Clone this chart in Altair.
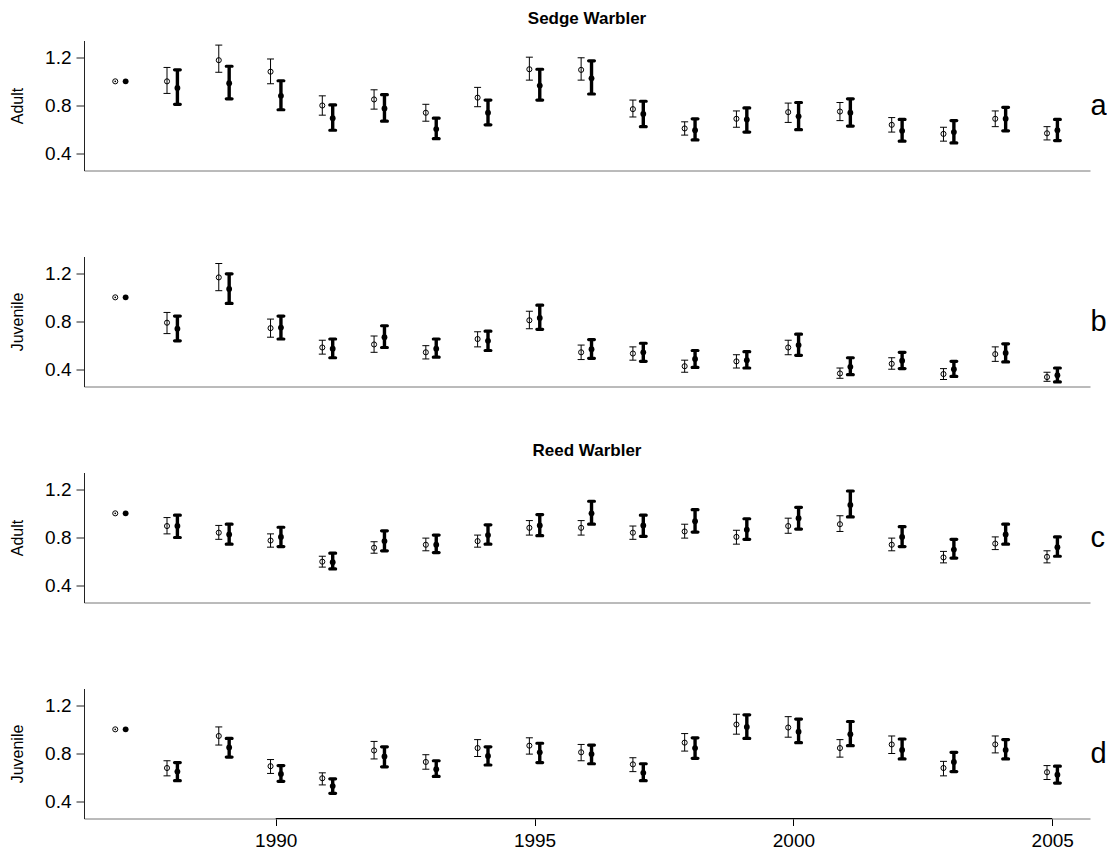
import altair as alt
import pandas as pd

FONT = "Liberation Sans"

years = list(range(1987, 2006))
x_ticks = [1990, 1995, 2000, 2005]
y_ticks = [0.4, 0.8, 1.2]
x_domain = [1986.296, 2005.73]
y_domain = [0.262, 1.338]
panel_letters = ["a", "b", "c", "d"]
row_labels = ["Adult", "Juvenile", "Adult", "Juvenile"]
species_titles = ["Sedge Warbler", "", "Reed Warbler", ""]

# Panel a: Sedge Warbler, adult
a_open = [1.00, 1.00, 1.175, 1.08, 0.80, 0.85, 0.74, 0.865, 1.10, 1.095, 0.77, 0.61, 0.69, 0.745, 0.75, 0.64, 0.565, 0.69, 0.57]
a_open_lo = [None, 0.90, 1.075, 0.98, 0.72, 0.77, 0.67, 0.79, 1.01, 1.01, 0.705, 0.555, 0.62, 0.66, 0.675, 0.58, 0.505, 0.625, 0.515]
a_open_hi = [None, 1.115, 1.30, 1.185, 0.88, 0.93, 0.81, 0.95, 1.20, 1.195, 0.845, 0.665, 0.755, 0.82, 0.825, 0.70, 0.62, 0.755, 0.625]
a_fill = [1.00, 0.945, 0.985, 0.88, 0.695, 0.775, 0.605, 0.74, 0.965, 1.025, 0.73, 0.595, 0.685, 0.71, 0.74, 0.59, 0.58, 0.69, 0.595]
a_fill_lo = [None, 0.81, 0.855, 0.765, 0.595, 0.67, 0.525, 0.64, 0.845, 0.895, 0.625, 0.515, 0.58, 0.60, 0.63, 0.505, 0.49, 0.59, 0.51]
a_fill_hi = [None, 1.095, 1.125, 1.005, 0.805, 0.89, 0.695, 0.845, 1.10, 1.17, 0.835, 0.69, 0.78, 0.825, 0.855, 0.685, 0.675, 0.785, 0.685]

# Panel b: Sedge Warbler, juvenile
b_open = [1.00, 0.79, 1.165, 0.745, 0.585, 0.61, 0.545, 0.655, 0.81, 0.545, 0.535, 0.43, 0.47, 0.585, 0.37, 0.45, 0.365, 0.53, 0.34]
b_open_lo = [None, 0.70, 1.055, 0.67, 0.53, 0.545, 0.49, 0.59, 0.74, 0.485, 0.48, 0.38, 0.415, 0.525, 0.33, 0.405, 0.32, 0.47, 0.305]
b_open_hi = [None, 0.875, 1.28, 0.82, 0.645, 0.68, 0.60, 0.715, 0.885, 0.605, 0.59, 0.48, 0.525, 0.645, 0.415, 0.50, 0.41, 0.59, 0.38]
b_fill = [1.00, 0.74, 1.07, 0.75, 0.575, 0.67, 0.575, 0.64, 0.83, 0.57, 0.545, 0.49, 0.48, 0.605, 0.425, 0.475, 0.405, 0.54, 0.355]
b_fill_lo = [None, 0.64, 0.95, 0.655, 0.50, 0.585, 0.505, 0.56, 0.735, 0.495, 0.47, 0.42, 0.415, 0.52, 0.36, 0.41, 0.345, 0.465, 0.30]
b_fill_hi = [None, 0.845, 1.195, 0.845, 0.655, 0.765, 0.655, 0.72, 0.935, 0.65, 0.62, 0.56, 0.55, 0.695, 0.50, 0.545, 0.47, 0.615, 0.415]

# Panel c: Reed Warbler, adult
c_open = [1.00, 0.895, 0.84, 0.775, 0.60, 0.715, 0.74, 0.77, 0.88, 0.88, 0.84, 0.85, 0.805, 0.895, 0.91, 0.74, 0.635, 0.75, 0.64]
c_open_lo = [None, 0.83, 0.785, 0.72, 0.555, 0.67, 0.69, 0.72, 0.82, 0.82, 0.785, 0.795, 0.745, 0.835, 0.85, 0.69, 0.59, 0.70, 0.59]
c_open_hi = [None, 0.965, 0.90, 0.83, 0.645, 0.765, 0.795, 0.82, 0.94, 0.94, 0.895, 0.91, 0.86, 0.96, 0.98, 0.795, 0.685, 0.805, 0.69]
c_fill = [1.00, 0.895, 0.825, 0.805, 0.595, 0.77, 0.74, 0.82, 0.90, 1.00, 0.90, 0.935, 0.865, 0.96, 1.07, 0.805, 0.70, 0.825, 0.72]
c_fill_lo = [None, 0.80, 0.745, 0.725, 0.54, 0.69, 0.675, 0.745, 0.815, 0.91, 0.81, 0.845, 0.785, 0.87, 0.97, 0.725, 0.63, 0.745, 0.645]
c_fill_hi = [None, 0.985, 0.91, 0.885, 0.67, 0.855, 0.82, 0.905, 0.99, 1.10, 0.985, 1.03, 0.955, 1.05, 1.185, 0.89, 0.785, 0.91, 0.805]

# Panel d: Reed Warbler, juvenile
d_open = [1.00, 0.68, 0.945, 0.695, 0.595, 0.825, 0.73, 0.845, 0.865, 0.81, 0.71, 0.89, 1.04, 1.015, 0.845, 0.875, 0.68, 0.875, 0.645]
d_open_lo = [None, 0.615, 0.87, 0.635, 0.54, 0.755, 0.67, 0.775, 0.795, 0.74, 0.65, 0.82, 0.96, 0.935, 0.77, 0.80, 0.615, 0.805, 0.585]
d_open_hi = [None, 0.74, 1.02, 0.75, 0.64, 0.90, 0.79, 0.915, 0.93, 0.875, 0.765, 0.965, 1.125, 1.105, 0.915, 0.945, 0.735, 0.945, 0.70]
d_fill = [1.00, 0.65, 0.85, 0.63, 0.53, 0.775, 0.67, 0.78, 0.81, 0.795, 0.64, 0.845, 1.02, 0.98, 0.96, 0.83, 0.73, 0.83, 0.625]
d_fill_lo = [None, 0.575, 0.77, 0.57, 0.47, 0.69, 0.61, 0.705, 0.725, 0.715, 0.575, 0.76, 0.925, 0.89, 0.865, 0.755, 0.65, 0.755, 0.555]
d_fill_hi = [None, 0.725, 0.925, 0.70, 0.59, 0.855, 0.74, 0.855, 0.885, 0.87, 0.715, 0.93, 1.12, 1.085, 1.065, 0.92, 0.81, 0.915, 0.695]

panel_data = [
    (a_open, a_open_lo, a_open_hi, a_fill, a_fill_lo, a_fill_hi),
    (b_open, b_open_lo, b_open_hi, b_fill, b_fill_lo, b_fill_hi),
    (c_open, c_open_lo, c_open_hi, c_fill, c_fill_lo, c_fill_hi),
    (d_open, d_open_lo, d_open_hi, d_fill, d_fill_lo, d_fill_hi),
]

W = 1006
H = 130
OFF = 5.2
TICK_FS = 19
TITLE_FS = 16


def make_panel(i):
    ov, olo, ohi, fv, flo, fhi = panel_data[i]
    df = pd.DataFrame({"year": years, "ov": ov, "olo": olo, "ohi": ohi,
                       "fv": fv, "flo": flo, "fhi": fhi})
    last = i == 3
    xs = alt.Scale(domain=x_domain, nice=False, zero=False)
    ys = alt.Scale(domain=y_domain, nice=False, zero=False)
    xaxis = alt.Axis(values=x_ticks, format="d", ticks=last, labels=last, title=None,
                     grid=False, domainColor="#777777", domainWidth=1,
                     tickColor="black", tickSize=7, labelFontSize=TICK_FS,
                     labelFont=FONT, labelColor="black", labelPadding=21,
                     labelBaseline="alphabetic",
                     labelFlush=False, labelOverlap=False)
    yaxis = alt.Axis(values=y_ticks, format=".1f", title=row_labels[i], grid=False,
                     domainColor="#222222", tickColor="#222222", tickSize=8,
                     labelFontSize=TICK_FS, labelFont=FONT, labelColor="black",
                     labelPadding=5, titleFont=FONT, titleFontSize=TITLE_FS,
                     titleFontWeight="normal", titleColor="black",
                     titleX=-67, titleY=H / 2, titleAngle=270,
                     titleAlign="center", titleBaseline="middle",
                     labelFlush=False)

    def X():
        return alt.X("year:Q", scale=xs, axis=xaxis)

    def Y(f):
        return alt.Y(f"{f}:Q", scale=ys, axis=yaxis)

    base = alt.Chart(df)
    bars = base.transform_filter("isValid(datum.olo)")
    nobars = base.transform_filter("!isValid(datum.olo)")

    open_rule = bars.mark_rule(color="black", strokeWidth=1, xOffset=-OFF).encode(
        x=X(), y=Y("olo"), y2="ohi")
    open_caps = bars.transform_fold(["olo", "ohi"], as_=["k", "cap"]).mark_tick(
        orient="horizontal", size=7, thickness=1, color="black", xOffset=-OFF, opacity=1
    ).encode(x=X(), y=Y("cap"))
    open_pts = base.mark_point(shape="circle", filled=False, size=26, strokeWidth=1,
                               color="black", opacity=1, xOffset=-OFF).encode(
        x=X(), y=Y("ov"))
    open_dot = nobars.mark_circle(size=3, color="black", opacity=1, xOffset=-OFF).encode(
        x=X(), y=Y("ov"))

    fill_rule = bars.mark_rule(color="black", strokeWidth=3.4, xOffset=OFF).encode(
        x=X(), y=Y("flo"), y2="fhi")
    fill_caps = bars.transform_fold(["flo", "fhi"], as_=["k", "cap"]).mark_tick(
        orient="horizontal", size=9, thickness=3.2, cornerRadius=1.6, color="black",
        xOffset=OFF, opacity=1
    ).encode(x=X(), y=Y("cap"))
    fill_pts = base.mark_circle(size=34, color="black", opacity=1, xOffset=OFF).encode(
        x=X(), y=Y("fv"))

    letter = alt.Chart(pd.DataFrame({"t": [panel_letters[i]]})).mark_text(
        font=FONT, fontSize=29, align="left", baseline="middle", color="black"
    ).encode(x=alt.value(W + 0.5), y=alt.value(H / 2), text="t:N")

    layers = [open_rule, open_caps, open_pts, open_dot, fill_rule, fill_caps, fill_pts, letter]

    if species_titles[i]:
        title = alt.Chart(pd.DataFrame({"t": [species_titles[i]]})).mark_text(
            font=FONT, fontSize=17, fontWeight="bold", align="center",
            baseline="alphabetic", color="black"
        ).encode(x=alt.value(W / 2), y=alt.value(-17), text="t:N")
        layers.append(title)

    if last:
        axis_line = alt.Chart(pd.DataFrame({"x1": [x_ticks[0]], "x2": [x_ticks[-1]]})).mark_rule(
            color="black", strokeWidth=1).encode(
            x=alt.X("x1:Q", scale=xs, axis=xaxis), x2="x2:Q", y=alt.value(H))
        layers.append(axis_line)

    return alt.layer(*layers).properties(width=W, height=H)


chart = alt.vconcat(*[make_panel(i) for i in range(4)], spacing=86, bounds="flush").properties(
    padding={"left": 9, "top": 9.5, "right": 0, "bottom": 0},
    background="white"
).configure_view(strokeWidth=0, stroke=None)

chart.save("out.html", embed_options={"renderer": "svg", "actions": False})
